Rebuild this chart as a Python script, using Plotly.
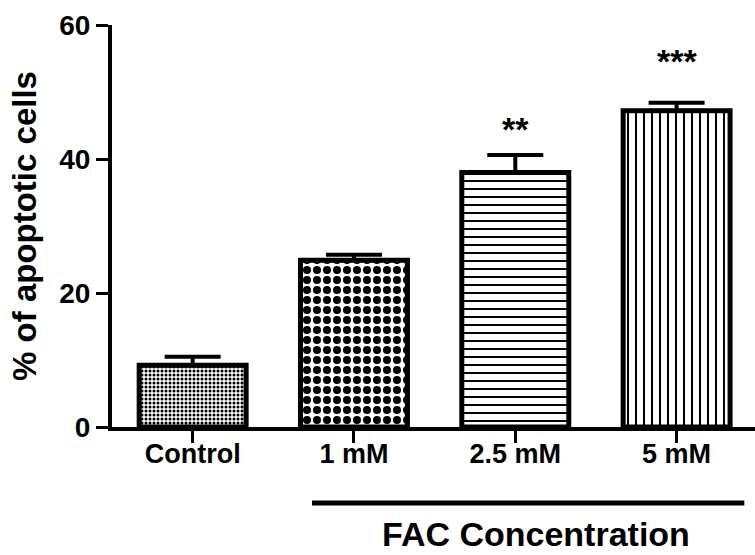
import plotly.graph_objects as go

# ---- data ----
categories = ["Control", "1 mM", "2.5 mM", "5 mM"]
mean_pct = [9.2, 24.9, 38.0, 47.2]
sem_pct = [1.3, 0.8, 2.6, 1.2]
sig_labels = ["", "", "**", "***"]
y_ticks = [0, 20, 40, 60]
group_label = "FAC Concentration"
y_title = "% of apoptotic cells"

FONT = "Liberation Sans"

patterns = [
    dict(shape=".", size=4, solidity=0.45, fgcolor="black", bgcolor="white", fillmode="replace"),
    dict(shape=".", size=10, solidity=0.5, fgcolor="black", bgcolor="white", fillmode="replace"),
    dict(shape="-", size=8, solidity=0.25, fgcolor="black", bgcolor="white", fillmode="replace"),
    dict(shape="|", size=8, solidity=0.25, fgcolor="black", bgcolor="white", fillmode="replace"),
]

fig = go.Figure()
for i, cat in enumerate(categories):
    fig.add_trace(go.Bar(
        x=[cat], y=[mean_pct[i]],
        marker=dict(color="white", line=dict(color="black", width=5), pattern=patterns[i]),
        error_y=dict(type="data", array=[sem_pct[i]], arrayminus=[0], symmetric=False,
                     color="black", thickness=4, width=28),
        showlegend=False,
    ))

# significance stars
star_pad = [0, 0, 0.8, 3.1]
for i, lab in enumerate(sig_labels):
    if lab:
        fig.add_annotation(x=categories[i], y=mean_pct[i] + sem_pct[i] + star_pad[i],
                           text=lab, showarrow=False, yanchor="bottom",
                           font=dict(family=FONT, size=34, color="black", weight="bold"))

# group bracket line and label
fig.add_shape(type="line", xref="x", yref="paper", x0=0.74, x1=3.42, y0=-0.189, y1=-0.189,
              line=dict(color="black", width=5))
fig.add_annotation(xref="x", yref="paper", x=2.13, y=-0.317, yanchor="bottom",
                   text=group_label, showarrow=False, borderpad=0,
                   font=dict(family=FONT, size=34, color="black", weight="bold"))

fig.update_layout(
    width=755, height=555,
    margin=dict(l=112, r=0, t=25, b=128),
    paper_bgcolor="white", plot_bgcolor="white",
    bargap=0.337, barmode="group",
    font=dict(family=FONT, color="black"),
)
fig.update_xaxes(
    type="category", range=[-0.5, 3.486],
    showline=True, linecolor="black", linewidth=4,
    ticks="outside", ticklen=12, tickwidth=3, tickcolor="black",
    tickfont=dict(family=FONT, size=27, color="black", weight="bold"),
    ticklabelstandoff=-12,
    showgrid=False, zeroline=False,
)
fig.update_yaxes(
    range=[0, 60], tickvals=y_ticks,
    showline=True, linecolor="black", linewidth=4,
    ticks="outside", ticklen=12, tickwidth=3, tickcolor="black",
    tickfont=dict(family=FONT, size=28, color="black", weight="bold"),
    ticklabelstandoff=0,
    showgrid=False, zeroline=False,
    title=dict(text=y_title, font=dict(family=FONT, size=33, color="black", weight="bold"), standoff=14),
)

fig.write_html("out.html", config={"displayModeBar": False},
               post_script="document.body.style.margin='0';")
